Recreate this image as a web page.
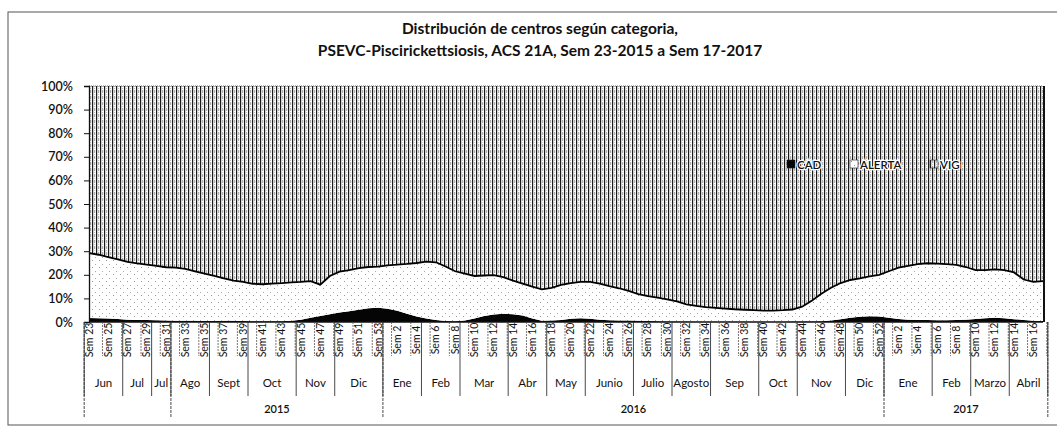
<!DOCTYPE html>
<html>
<head>
<meta charset="utf-8">
<script src="https://cdn.jsdelivr.net/npm/d3@7"></script>
<style>
  body { margin: 0; background: #fff; }
  text { font-family: Lato, 'Open Sans', sans-serif; fill: #111; }
</style>
</head>
<body>
<div id="chart"></div>
<script>
// semanas: Sem 23-2015 .. Sem 17-2017
const weeks = [
  23, 24, 25, 26, 27, 28, 29, 30, 31, 32, 33, 34, 35, 36, 37, 38, 39, 40, 41, 42,
  43, 44, 45, 46, 47, 48, 49, 50, 51, 52, 53,
  1, 2, 3, 4, 5, 6, 7, 8, 9, 10, 11, 12, 13, 14, 15, 16, 17, 18, 19, 20,
  21, 22, 23, 24, 25, 26, 27, 28, 29, 30, 31, 32, 33, 34, 35, 36, 37, 38, 39, 40,
  41, 42, 43, 44, 45, 46, 47, 48, 49, 50, 51, 52,
  1, 2, 3, 4, 5, 6, 7, 8, 9, 10, 11, 12, 13, 14, 15, 16, 17
]

// % de centros por categoria
const cad = [
  1.7, 1.6, 1.5, 1.3, 1.0, 0.9, 0.8, 0.7, 0.6, 0.5,
  0.5, 0.5, 0.4, 0.4, 0.5, 0.5, 0.4, 0.3, 0.3, 0.3,
  0.3, 0.5, 1.0, 1.8, 2.5, 3.3, 4.0, 4.6, 5.2, 5.8,
  6.0, 5.6, 4.8, 3.5, 2.3, 1.5, 0.8, 0.4, 0.3, 0.6,
  1.5, 2.5, 3.2, 3.5, 3.3, 2.8, 1.5, 0.5, 0.6, 0.9,
  1.4, 1.6, 1.4, 1.0, 0.7, 0.6, 0.6, 0.5, 0.4, 0.3,
  0.2, 0.2, 0.2, 0.1, 0.1, 0.1, 0.1, 0.1, 0.1, 0.1,
  0.1, 0.1, 0.1, 0.2, 0.2, 0.2, 0.3, 0.6, 1.2, 1.8,
  2.2, 2.4, 2.3, 1.8, 1.3, 1.0, 0.8, 0.8, 0.7, 0.7,
  0.8, 1.0, 1.3, 1.6, 1.8, 1.6, 1.2, 0.8, 0.5, 0.4
]
const alerta = [
  27.5, 26.9, 26.0, 25.2, 24.5, 23.9, 23.5, 23.1, 22.6, 22.5,
  22.0, 21.0, 20.1, 19.1, 18.0, 17.0, 16.6, 15.9, 15.7, 16.0,
  16.2, 16.3, 16.0, 15.5, 13.3, 16.2, 17.3, 17.4, 17.6, 17.5,
  17.5, 18.4, 19.5, 21.1, 22.7, 24.1, 24.5, 23.1, 21.2, 19.9,
  18.0, 17.2, 16.7, 15.5, 14.2, 13.5, 13.5, 13.3, 13.9, 14.8,
  15.1, 15.4, 15.6, 15.3, 14.5, 13.7, 12.6, 11.3, 10.6, 10.0,
  9.4, 8.5, 7.3, 6.7, 6.2, 5.9, 5.6, 5.3, 5.1, 4.9,
  4.7, 4.7, 4.9, 5.1, 6.3, 8.8, 11.7, 13.9, 15.3, 16.0,
  16.3, 16.9, 17.7, 19.7, 21.7, 22.8, 23.7, 24.1, 24.0, 23.8,
  23.4, 22.3, 20.7, 20.4, 20.5, 20.4, 19.8, 17.2, 16.5, 16.9
]
const vig = [
  70.8, 71.5, 72.5, 73.5, 74.5, 75.2, 75.7, 76.2, 76.8, 77.0,
  77.5, 78.5, 79.5, 80.5, 81.5, 82.5, 83.0, 83.8, 84.0, 83.7,
  83.5, 83.2, 83.0, 82.7, 84.2, 80.5, 78.7, 78.0, 77.2, 76.7,
  76.5, 76.0, 75.7, 75.4, 75.0, 74.4, 74.7, 76.5, 78.5, 79.5,
  80.5, 80.3, 80.1, 81.0, 82.5, 83.7, 85.0, 86.2, 85.5, 84.3,
  83.5, 83.0, 83.0, 83.7, 84.8, 85.7, 86.8, 88.2, 89.0, 89.7,
  90.4, 91.3, 92.5, 93.2, 93.7, 94.0, 94.3, 94.6, 94.8, 95.0,
  95.2, 95.2, 95.0, 94.7, 93.5, 91.0, 88.0, 85.5, 83.5, 82.2,
  81.5, 80.7, 80.0, 78.5, 77.0, 76.2, 75.5, 75.1, 75.3, 75.5,
  75.8, 76.7, 78.0, 78.0, 77.7, 78.0, 79.0, 82.0, 83.0, 82.7
]

const months = ['Jun', 'Jul', 'Jul', 'Ago', 'Sept', 'Oct', 'Nov', 'Dic',
  'Ene', 'Feb', 'Mar', 'Abr', 'May', 'Junio', 'Julio', 'Agosto', 'Sep', 'Oct', 'Nov', 'Dic',
  'Ene', 'Feb', 'Marzo', 'Abril']
const monthWeeks = [4, 3, 2, 4, 4, 5, 4, 5, 4, 4, 5, 4, 4, 5, 4, 4, 5, 4, 5, 4, 5, 4, 4, 4]
const years = ['', '2015', '2016', '2017']
const yearWeeks = [9, 22, 52, 17]

const seriesNames = ['CAD', 'ALERTA', 'VIG']
const yTicks = [0, 0.1, 0.2, 0.3, 0.4, 0.5, 0.6, 0.7, 0.8, 0.9, 1]

const width = 1057
const height = 428
const margin = { top: 86, left: 89, right: 14, bottom: 106 }
const plotW = width - margin.left - margin.right
const plotH = height - margin.top - margin.bottom

const svg = d3
  .select('#chart')
  .append('svg')
  .attr('width', width)
  .attr('height', height)

// chart frame
svg
  .append('rect')
  .attr('x', 8)
  .attr('y', 12)
  .attr('width', 1070)
  .attr('height', 413)
  .attr('fill', 'none')
  .attr('stroke', '#555')
  .attr('stroke-width', 1)

const defs = svg.append('defs')

const vigPat = defs
  .append('pattern')
  .attr('id', 'pat-vig')
  .attr('patternUnits', 'userSpaceOnUse')
  .attr('width', 4)
  .attr('height', 6)
vigPat.append('rect').attr('width', 4).attr('height', 6).attr('fill', '#fff')
vigPat.append('rect').attr('x', 0).attr('width', 1.2).attr('height', 6).attr('fill', '#1a1a1a')
vigPat.append('rect').attr('x', 2.2).attr('y', 0).attr('width', 1).attr('height', 3).attr('fill', '#999')
vigPat.append('rect').attr('x', 2.2).attr('y', 4).attr('width', 1).attr('height', 1).attr('fill', '#bbb')

const alePat = defs
  .append('pattern')
  .attr('id', 'pat-alerta')
  .attr('patternUnits', 'userSpaceOnUse')
  .attr('width', 7)
  .attr('height', 7)
alePat.append('rect').attr('width', 7).attr('height', 7).attr('fill', '#fff')
alePat.append('rect').attr('x', 1).attr('y', 1).attr('width', 1).attr('height', 1).attr('fill', '#999')
alePat.append('rect').attr('x', 4).attr('y', 5).attr('width', 1).attr('height', 1).attr('fill', '#aaa')

const fills = { CAD: '#050505', ALERTA: 'url(#pat-alerta)', VIG: 'url(#pat-vig)' }

const rows = weeks.map((w, i) => ({ i: i, CAD: cad[i], ALERTA: alerta[i], VIG: vig[i] }))

const stack = d3.stack().keys(seriesNames).offset(d3.stackOffsetExpand)
const layers = stack(rows)

const x = d3
  .scalePoint()
  .domain(d3.range(weeks.length))
  .range([margin.left, margin.left + plotW])
const step = x.step()

const y = d3
  .scaleLinear()
  .domain([0, 1])
  .range([margin.top + plotH, margin.top])

const area = d3
  .area()
  .x(d => x(d.data.i))
  .y0(d => y(d[0]))
  .y1(d => y(d[1]))

svg
  .append('g')
  .selectAll('path')
  .data(layers)
  .enter()
  .append('path')
  .attr('d', area)
  .attr('fill', d => fills[d.key])

// dark edge between ALERTA and VIG
const edge = d3
  .line()
  .x(d => x(d.data.i))
  .y(d => y(d[1]))
svg
  .append('path')
  .datum(layers[1])
  .attr('d', edge)
  .attr('fill', 'none')
  .attr('stroke', '#000')
  .attr('stroke-width', 1.8)

// plot border
svg
  .append('line')
  .attr('x1', margin.left)
  .attr('x2', margin.left + plotW)
  .attr('y1', margin.top)
  .attr('y2', margin.top)
  .attr('stroke', '#777')
  .attr('stroke-dasharray', '1,1')
svg
  .append('line')
  .attr('x1', margin.left + plotW + 1)
  .attr('x2', margin.left + plotW + 1)
  .attr('y1', margin.top)
  .attr('y2', margin.top + plotH)
  .attr('stroke', '#111')
  .attr('stroke-width', 2)

// y axis
const yAxis = svg
  .append('g')
  .attr('transform', 'translate(' + margin.left + ',0)')
  .call(
    d3
      .axisLeft(y)
      .tickValues(yTicks)
      .tickFormat(d3.format('.0%'))
      .tickSize(5)
  )
yAxis.select('.domain').attr('stroke', '#111').attr('stroke-width', 1.3)
yAxis.selectAll('line').attr('stroke', '#111')
yAxis
  .selectAll('text')
  .attr('x', -16)
  .style('font-size', '12.5px')
  .style('font-family', 'Lato, sans-serif')
  .style('font-weight', 600)

// x axis baseline
svg
  .append('line')
  .attr('x1', margin.left)
  .attr('x2', margin.left + plotW)
  .attr('y1', margin.top + plotH)
  .attr('y2', margin.top + plotH)
  .attr('stroke', '#111')
  .attr('stroke-width', 1.3)

const axisY = margin.top + plotH

// week labels, every other week
const labelIdx = d3.range(0, weeks.length, 2)
svg
  .append('g')
  .selectAll('text')
  .data(labelIdx)
  .enter()
  .append('text')
  .attr('transform', i => 'translate(' + (x(i) + 3.5) + ',' + (axisY + 18) + ') rotate(-90)')
  .attr('text-anchor', 'middle')
  .style('font-size', '10.5px')
  .text(i => 'Sem ' + weeks[i])

// small separators between week labels
svg
  .append('g')
  .selectAll('line')
  .data(d3.range(1, weeks.length, 2))
  .enter()
  .append('line')
  .attr('x1', i => x(i) + step / 2 - 1)
  .attr('x2', i => x(i) + step / 2 - 1)
  .attr('y1', axisY)
  .attr('y2', axisY + 34)
  .attr('stroke', '#555')
  .attr('stroke-width', 0.8)
  .attr('stroke-dasharray', '2,1')

// month groups
const monthEnds = d3.cumsum(monthWeeks)
const edgeX = c => x(0) + (c - 0.5) * step

svg
  .append('g')
  .selectAll('text')
  .data(months)
  .enter()
  .append('text')
  .attr('x', (d, k) => (edgeX(monthEnds[k] - monthWeeks[k]) + edgeX(monthEnds[k])) / 2)
  .attr('y', axisY + 65)
  .attr('text-anchor', 'middle')
  .style('font-size', '11.5px')
  .text(d => d)

svg
  .append('g')
  .selectAll('line')
  .data([0].concat(Array.from(monthEnds)))
  .enter()
  .append('line')
  .attr('x1', c => edgeX(c))
  .attr('x2', c => edgeX(c))
  .attr('y1', axisY)
  .attr('y2', axisY + 74)
  .attr('stroke', '#333')
  .attr('stroke-width', 0.9)

// year groups
const yearEnds = d3.cumsum(yearWeeks)
svg
  .append('g')
  .selectAll('text')
  .data(years)
  .enter()
  .append('text')
  .attr('x', (d, k) => (edgeX(yearEnds[k] - yearWeeks[k]) + edgeX(yearEnds[k])) / 2)
  .attr('y', axisY + 91)
  .attr('text-anchor', 'middle')
  .style('font-size', '11px')
  .style('font-weight', 600)
  .text(d => d)

svg
  .append('g')
  .selectAll('line')
  .data([0].concat(Array.from(yearEnds)))
  .enter()
  .append('line')
  .attr('x1', c => edgeX(c))
  .attr('x2', c => edgeX(c))
  .attr('y1', axisY)
  .attr('y2', axisY + 96)
  .attr('stroke', '#333')
  .attr('stroke-width', 0.9)
  .attr('stroke-dasharray', '3,1')

// legend
const legend = svg
  .append('g')
  .selectAll('g')
  .data(seriesNames)
  .enter()
  .append('g')
  .attr('transform', (d, k) => 'translate(' + [787, 850, 930][k] + ',160)')
legend
  .append('rect')
  .attr('width', 8)
  .attr('height', 8)
  .attr('fill', d => fills[d])
  .attr('stroke', '#222')
  .attr('stroke-width', 0.6)
legend
  .append('text')
  .attr('x', 10)
  .attr('y', 8.5)
  .style('font-size', '11.5px')
  .style('font-weight', 600)
  .style('paint-order', 'stroke')
  .style('stroke', '#fff')
  .style('stroke-width', 2.5)
  .text(d => d)

// title
svg
  .append('text')
  .attr('x', 540)
  .attr('y', 34)
  .attr('text-anchor', 'middle')
  .style('font-size', '15.5px')
  .style('font-weight', 700)
  .text('Distribución de centros según categoria,')
svg
  .append('text')
  .attr('x', 540)
  .attr('y', 56)
  .attr('text-anchor', 'middle')
  .style('font-size', '15.5px')
  .style('font-weight', 700)
  .text('PSEVC-Piscirickettsiosis, ACS 21A, Sem  23-2015 a Sem 17-2017')
</script>
</body>
</html>
